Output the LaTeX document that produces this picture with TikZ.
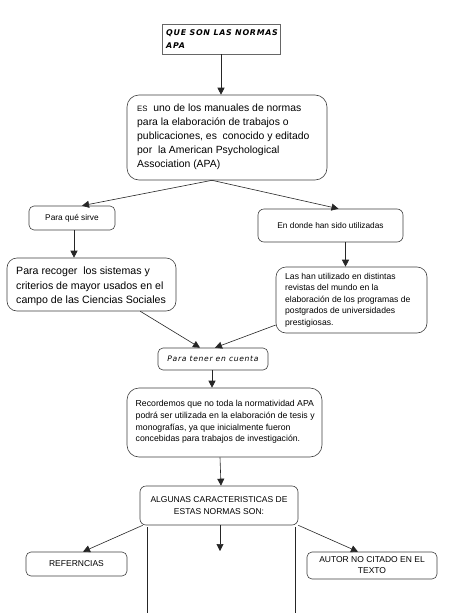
\documentclass[tikz,border=0pt]{standalone}
\usepackage{fontspec}
\setmainfont{Liberation Sans}
\newfontfamily\titlefont[LetterSpace=9]{DejaVu Sans}
\usetikzlibrary{arrows.meta,calc}
\begin{document}
\begin{tikzpicture}[x=1pt,y=-1pt,
  bx/.style={draw=black!75, line width=0.6pt, rounded corners=#1, inner sep=0pt, anchor=center},
  bx/.default=6pt,
  txt/.style={inner sep=0pt, anchor=west, align=left},
  arr/.style={-{Triangle[length=7pt,width=7pt]}, line width=0.6pt, draw=black!85},
  ln/.style={line width=0.6pt, draw=black!85}]
\useasboundingbox (0,0) rectangle (474,613);
\fill[white] (0,0) rectangle (474,613);
% boxes
\node[draw=black!60, line width=0.7pt, inner sep=0pt, minimum width=118pt, minimum height=30pt] (title) at (221,39) {};
\node[txt, font=\titlefont\itshape\bfseries\fontsize{7.9}{12.5}\selectfont] (title-t) at (166,39)
  {QUE SON LAS NORMAS\\APA};
\node[bx=12pt, minimum width=200pt, minimum height=85pt] (es) at (227,137.5) {};
\node[txt, font=\fontsize{10.4}{14}\selectfont] (es-t) at (137,136.5)
  {{\fontsize{7.8}{14}\selectfont ES}\ \ uno de los manuales de normas\\para la elaboración de trabajos o\\publicaciones, es\ \ conocido y editado\\por\ \ la American Psychological\\Association (APA)};
\node[bx=5pt, minimum width=86pt, minimum height=24pt, align=center, font=\fontsize{8.3}{10}\selectfont] (paraque) at (72,218)
  {Para qué sirve};
\node[bx=6pt, minimum width=145pt, minimum height=33pt, align=center, font=\fontsize{8.3}{10}\selectfont] (endonde) at (330.5,225.5)
  {En donde han sido utilizadas};
\node[bx=10pt, minimum width=169pt, minimum height=53pt] (recoger) at (91.5,284.5) {};
\node[txt, font=\fontsize{10.6}{14.5}\selectfont] (recoger-t) at (16,286.5)
  {Para recoger\ \ los sistemas y\\criterios de mayor usados en el\\campo de las Ciencias Sociales};
\node[bx=10pt, minimum width=151pt, minimum height=66pt] (lashan) at (351.5,300) {};
\node[txt, font=\fontsize{8.6}{11.6}\selectfont] (lashan-t) at (285,300)
  {Las han utilizado en distintas\\revistas del mundo en la\\elaboración de los programas de\\postgrados de universidades\\prestigiosas.};
\node[bx=5pt, minimum width=110pt, minimum height=22pt, align=center, font=\titlefont\itshape\fontsize{7.6}{9}\selectfont] (paratener) at (213,359)
  {Para tener en cuenta};
\node[bx=12pt, minimum width=195pt, minimum height=69pt] (recordemos) at (224.5,422.5) {};
\node[txt, font=\fontsize{8.7}{11.6}\selectfont] (recordemos-t) at (135.5,422)
  {Recordemos que no toda la normatividad APA\\podrá ser utilizada en la elaboración de tesis y\\monografías, ya que inicialmente fueron\\concebidas para trabajos de investigación.};
\node[bx=6pt, minimum width=158pt, minimum height=39pt, align=center, font=\fontsize{8.5}{12.5}\selectfont] (algunas) at (219,505.5)
  {ALGUNAS CARACTERISTICAS DE\\ESTAS NORMAS SON:};
\node[bx=5pt, minimum width=101pt, minimum height=24pt, align=center, font=\fontsize{8.5}{10}\selectfont] (refs) at (76.5,564)
  {REFERNCIAS};
\node[bx=5pt, minimum width=130pt, minimum height=27pt, align=center, font=\fontsize{8.5}{11}\selectfont] (autor) at (372,565.5)
  {AUTOR NO CITADO EN EL\\TEXTO};
% connectors
\draw[arr] (title.south) -- (title.south |- es.north);
\coordinate (j1) at ($(es.south)+(-15,0)$);
\draw[arr] (j1) -- ($(paraque.north)+(10,0)$);
\draw[arr] (j1) -- ($(endonde.north)+(8,0)$);
\draw[arr] ($(paraque.south)+(2,0)$) -- ($(paraque.south |- recoger.north)+(2,0)$);
\draw[arr] ($(endonde.south)+(15,0)$) -- ($(endonde.south |- lashan.north)+(15,0)$);
\draw[arr] ($(recoger.south east)+(-36,0)$) -- ($(paratener.north)+(-13,0)$);
\draw[arr] ($(lashan.west)+(0,25)$) -- ($(paratener.north)+(2,0)$);
\draw[arr] ($(paratener.south)+(-1,0)$) -- ($(paratener.south |- recordemos.north)+(-1,0)$);
\draw[arr] ($(recordemos.south)+(-4.5,0)$) -- ($(recordemos.south |- algunas.north)+(-3.5,0)$);
\draw[arr] ($(algunas.south west)+(3,0)$) -- ($(refs.north)+(6.5,0)$);
\draw[arr] ($(algunas.south east)+(0,0)$) -- ($(autor.north)+(-14,0)$);
\coordinate (m1) at (220,551);
\draw[arr] (algunas.south -| m1) -- (m1);
\coordinate (b1) at (147,613);
\coordinate (b2) at (295,613);
\draw[ln] (algunas.south -| b1) ++(0,2) -- (b1);
\draw[ln] (algunas.south -| b2) ++(0,2) -- (b2);
\end{tikzpicture}
\end{document}
